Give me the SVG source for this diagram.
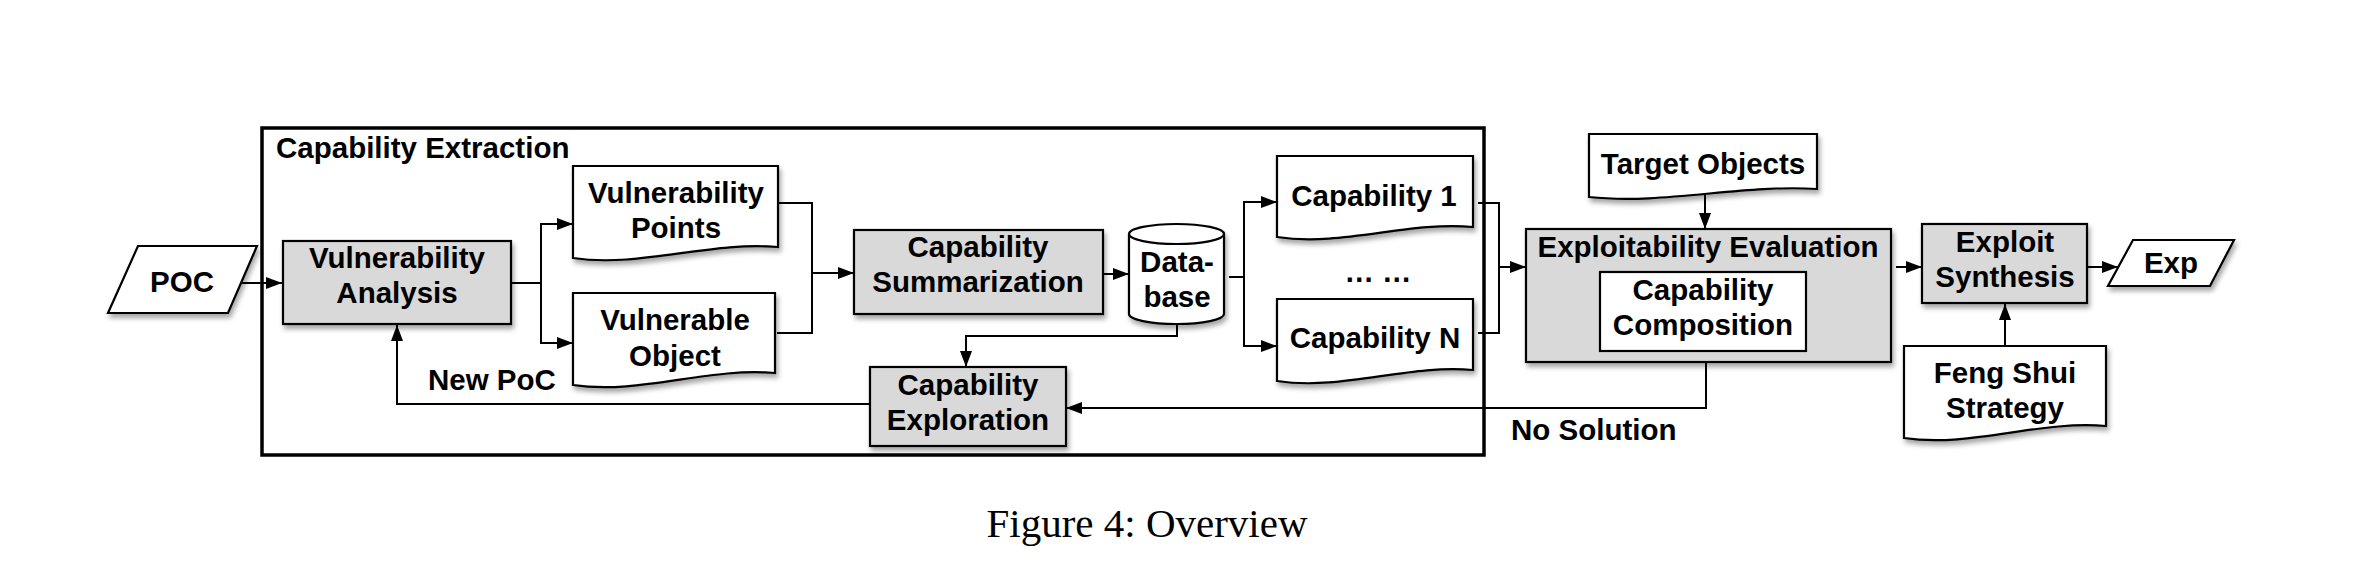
<svg xmlns="http://www.w3.org/2000/svg" width="2377" height="570" viewBox="0 0 2377 570">
<style>
.t{font-family:"Liberation Sans",Arial,sans-serif;font-weight:bold;font-size:29.5px;fill:#000;text-anchor:middle}
.tl{font-family:"Liberation Sans",Arial,sans-serif;font-weight:bold;font-size:29.5px;fill:#000}
.box{fill:#d9d9d9;stroke:#000;stroke-width:2.2}
.wbox{fill:#fff;stroke:#000;stroke-width:2.2}
.c{fill:none;stroke:#000;stroke-width:2}
.sh{filter:url(#shadow)}
</style>
<defs>
<filter id="shadow" x="-10%" y="-10%" width="130%" height="140%">
<feDropShadow dx="2" dy="4" stdDeviation="2.5" flood-color="#000" flood-opacity="0.35"/>
</filter>
<marker id="arr" markerUnits="userSpaceOnUse" markerWidth="16" markerHeight="12" refX="16" refY="6" orient="auto">
<path d="M0,0 L16,6 L0,12 Z" fill="#000"/>
</marker>
</defs>
<rect width="2377" height="570" fill="#fff"/>

<g id="capability-extraction">
<rect x="262" y="128" width="1222" height="327" fill="none" stroke="#000" stroke-width="3.5"/>
<text class="tl" x="276" y="158">Capability Extraction</text>
</g>

<g id="connectors">
<path class="c" d="M240,283 H282" marker-end="url(#arr)"/>
<path class="c" d="M511,283 H541 V224 H573" marker-end="url(#arr)"/>
<path class="c" d="M541,283 V343 H573" marker-end="url(#arr)"/>
<path class="c" d="M778,203 H812 V333 H777"/>
<path class="c" d="M812,273 H854" marker-end="url(#arr)"/>
<path class="c" d="M1103,274 H1129" marker-end="url(#arr)"/>
<path class="c" d="M1177,324 V336 H966 V367" marker-end="url(#arr)"/>
<path class="c" d="M1229,277 H1244 V202 H1277" marker-end="url(#arr)"/>
<path class="c" d="M1244,277 V346 H1277" marker-end="url(#arr)"/>
<path class="c" d="M1478,203 H1499 V333 H1478"/>
<path class="c" d="M1499,267 H1526" marker-end="url(#arr)"/>
<path class="c" d="M1705,195 V229" marker-end="url(#arr)"/>
<path class="c" d="M1706,362 V408 H1066" marker-end="url(#arr)"/>
<path class="c" d="M1896,267 H1922" marker-end="url(#arr)"/>
<path class="c" d="M2087,267 H2118" marker-end="url(#arr)"/>
<path class="c" d="M2005,346 V304" marker-end="url(#arr)"/>
<path class="c" d="M870,404 H397 V325" marker-end="url(#arr)"/>
<text class="tl" x="428" y="390">New PoC</text>
<text class="tl" x="1511" y="440">No Solution</text>
</g>

<g id="poc">
<polygon class="wbox sh" points="138,246 257,246 228,313 108,313"/>
<text class="t" x="182" y="292">POC</text>
</g>

<g id="vulnerability-analysis">
<rect class="box sh" x="283" y="241" width="228" height="83"/>
<text class="t" x="397" y="268">Vulnerability</text>
<text class="t" x="397" y="303">Analysis</text>
</g>

<g id="vulnerability-points">
<path class="wbox sh" d="M573,166 H778 V247 C710,241 640,268 573,258 Z"/>
<text class="t" x="676" y="203">Vulnerability</text>
<text class="t" x="676" y="238">Points</text>
</g>

<g id="vulnerable-object">
<path class="wbox sh" d="M573,293 H775 V373 C708,367 640,395 573,385 Z"/>
<text class="t" x="675" y="330">Vulnerable</text>
<text class="t" x="675" y="366">Object</text>
</g>

<g id="capability-summarization">
<rect class="box sh" x="854" y="230" width="249" height="84"/>
<text class="t" x="978" y="257">Capability</text>
<text class="t" x="978" y="292">Summarization</text>
</g>

<g id="database">
<path class="wbox sh" d="M1129,234 A47.5,10 0 0 1 1224,234 V314 A47.5,10 0 0 1 1129,314 Z"/>
<path class="wbox" d="M1129,234 A47.5,10 0 0 0 1224,234"/>
<text class="t" x="1177" y="272">Data-</text>
<text class="t" x="1177" y="307">base</text>
</g>

<g id="capability-exploration">
<rect class="box sh" x="870" y="367" width="196" height="79"/>
<text class="t" x="968" y="395">Capability</text>
<text class="t" x="968" y="430">Exploration</text>
</g>

<g id="capability-1">
<path class="wbox sh" d="M1277,156 H1473 V227 C1408,221 1342,247 1277,237 Z"/>
<text class="t" x="1374" y="206">Capability 1</text>
</g>

<g id="ellipsis">
<text class="t" x="1378" y="282">… …</text>
</g>

<g id="capability-n">
<path class="wbox sh" d="M1277,299 H1473 V370 C1408,364 1342,391 1277,381 Z"/>
<text class="t" x="1375" y="348">Capability N</text>
</g>

<g id="target-objects">
<path class="wbox sh" d="M1589,134 H1817 V189 C1742,184 1664,205 1589,197 Z"/>
<text class="t" x="1703" y="174">Target Objects</text>
</g>

<g id="exploitability-evaluation">
<rect class="box sh" x="1526" y="229" width="365" height="133"/>
<text class="t" x="1708" y="257">Exploitability Evaluation</text>
</g>

<g id="capability-composition">
<rect class="wbox" x="1600" y="272" width="206" height="79"/>
<text class="t" x="1703" y="300">Capability</text>
<text class="t" x="1703" y="335">Composition</text>
</g>

<g id="exploit-synthesis">
<rect class="box sh" x="1922" y="224" width="165" height="79"/>
<text class="t" x="2005" y="252">Exploit</text>
<text class="t" x="2005" y="287">Synthesis</text>
</g>

<g id="exp">
<polygon class="wbox sh" points="2133,240 2234,240 2210,286 2108,286"/>
<text class="t" x="2171" y="273">Exp</text>
</g>

<g id="feng-shui-strategy">
<path class="wbox sh" d="M1904,346 H2106 V426 C2039,420 1971,448 1904,438 Z"/>
<text class="t" x="2005" y="383">Feng Shui</text>
<text class="t" x="2005" y="418">Strategy</text>
</g>

<g id="caption">
<text x="1147" y="537" text-anchor="middle" font-family="'Liberation Serif','Times New Roman',serif" font-size="41">Figure 4: Overview</text>
</g>
</svg>
